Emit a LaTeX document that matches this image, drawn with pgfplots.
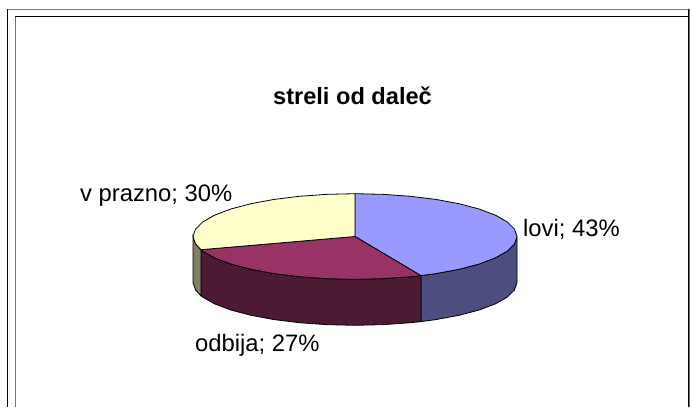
\documentclass[border=0pt]{standalone}
\usepackage{fontspec}
\setmainfont{Liberation Sans}
\usepackage{pgfplots}
\pgfplotsset{compat=1.18}
\definecolor{blueT}{HTML}{9999FF}
\definecolor{blueS}{HTML}{4D4D80}
\definecolor{marT}{HTML}{993366}
\definecolor{marS}{HTML}{4D1A33}
\definecolor{yelT}{HTML}{FFFFCC}
\definecolor{yelS}{HTML}{808066}
\begin{document}
\begin{tikzpicture}
\begin{axis}[
  scale only axis, width=690pt, height=407pt,
  xmin=0, xmax=690, ymin=0, ymax=407, y dir=reverse,
  hide axis, clip=true,
]
% frame
\addplot[draw=black!55, line width=1pt] coordinates {(7.5,9) (690,9)};
\addplot[draw=black, line width=1pt] coordinates {(7.5,9) (7.5,407)};
\addplot[draw=black, line width=1pt] coordinates {(15,16.5) (688,16.5)};
\addplot[draw=black!55, line width=1pt] coordinates {(15,16.5) (15,407)};
\addplot[draw=black!55, line width=1pt] coordinates {(689.5,9) (689.5,407)};
\addplot[draw=black, line width=1pt] coordinates {(688.3,9) (688.3,407)};
% sides
\addplot[draw=black, line width=0.8pt, fill=blueS] coordinates {
 (517,236.5) (514.5,243.93) (507.2,251.14) (495.3,257.9) (479.1,264.01) (459.1,269.29) (436,273.57) (420.9,275.6)
 (420.9,321.6) (436,319.57) (459.1,315.29) (479.1,310.01) (495.3,303.9) (507.2,297.14) (514.5,289.93) (517,282.5) (517,236.5)};
\addplot[draw=black, line width=0.8pt, fill=marS] coordinates {
 (420.9,275.6) (410.4,276.72) (383.1,278.65) (355,279.3) (326.9,278.65) (299.6,276.72) (274,273.57) (250.9,269.29) (230.9,264.01) (214.7,257.9) (202.8,251.14) (200.9,249.7)
 (200.9,295.7) (202.8,297.14) (214.7,303.9) (230.9,310.01) (250.9,315.29) (274,319.57) (299.6,322.72) (326.9,324.65) (355,325.3) (383.1,324.65) (410.4,322.72) (420.9,321.6) (420.9,275.6)};
\addplot[draw=black, line width=0.8pt, fill=yelS] coordinates {
 (200.9,249.7) (195.5,243.93) (193,236.5) (193,282.5) (195.5,289.93) (200.9,295.7) (200.9,249.7)};
% tops: lovi 43, odbija 27, v prazno 30
\addplot[draw=black, line width=0.8pt, fill=blueT] coordinates {
 (355,236.5) (355,193.7) (383.1,194.35) (410.4,196.28) (436,199.43) (459.1,203.71) (479.1,208.99) (495.3,215.1) (507.2,221.86) (514.5,229.07) (517,236.5) (514.5,243.93) (507.2,251.14) (495.3,257.9) (479.1,264.01) (459.1,269.29) (436,273.57) (420.9,275.6) (355,236.5)};
\addplot[draw=black, line width=0.8pt, fill=marT] coordinates {
 (355,236.5) (420.9,275.6) (410.4,276.72) (383.1,278.65) (355,279.3) (326.9,278.65) (299.6,276.72) (274,273.57) (250.9,269.29) (230.9,264.01) (214.7,257.9) (202.8,251.14) (200.9,249.7) (355,236.5)};
\addplot[draw=black, line width=0.8pt, fill=yelT] coordinates {
 (355,236.5) (200.9,249.7) (195.5,243.93) (193,236.5) (195.5,229.07) (202.8,221.86) (214.7,215.1) (230.9,208.99) (250.9,203.71) (274,199.43) (299.6,196.28) (326.9,194.35) (355,193.7) (355,236.5)};
% text
\node[font=\fontsize{23.6}{26}\selectfont\bfseries, anchor=center] at (axis cs:352.5,96) {streli od daleč};
\node[font=\fontsize{23.8}{26}\selectfont, anchor=west, inner sep=0pt] at (axis cs:523,229) {lovi; 43\%};
\node[font=\fontsize{23.8}{26}\selectfont, anchor=west, inner sep=0pt] at (axis cs:80,196) {v prazno; 30\%};
\node[font=\fontsize{23.8}{26}\selectfont, anchor=west, inner sep=0pt] at (axis cs:195,345) {odbija; 27\%};
\end{axis}
\pgfresetboundingbox
\path[use as bounding box] (0,0) rectangle (690pt,407pt);
\end{tikzpicture}
\end{document}
